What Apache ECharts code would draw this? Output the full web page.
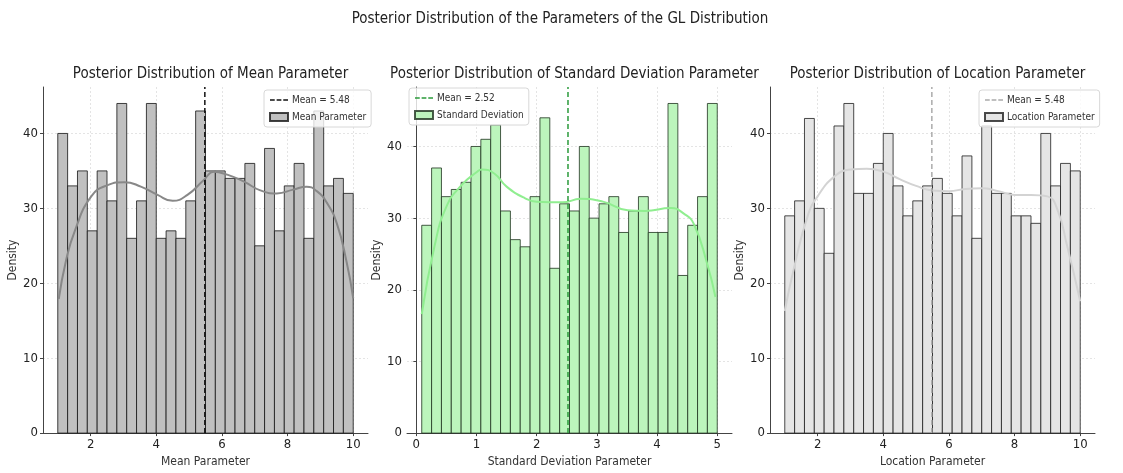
<!DOCTYPE html>
<html>
<head>
<meta charset="utf-8">
<script src="https://cdn.jsdelivr.net/npm/echarts@6/dist/echarts.min.js"></script>
<style>
  html, body { margin: 0; padding: 0; background: #fff; }
  #chart { width: 1123px; height: 473px; }
</style>
</head>
<body>
<div id="chart"></div>
<script>
// Histogram counts (30 bins each)
const meanCounts = [40, 33, 35, 27, 35, 31, 44, 26, 31, 44, 26, 27, 26, 31, 43,
                    35, 35, 34, 34, 36, 25, 38, 27, 33, 36, 26, 43, 33, 34, 32];
const sdCounts   = [29, 37, 33, 34, 35, 40, 41, 43, 31, 27, 26, 33, 44, 23, 32,
                    31, 40, 30, 32, 33, 28, 31, 33, 28, 28, 46, 22, 29, 33, 46];
const locCounts  = [29, 31, 42, 30, 24, 41, 44, 32, 32, 36, 40, 33, 29, 31, 33,
                    34, 32, 29, 37, 26, 41, 32, 32, 29, 29, 28, 40, 33, 36, 35];

// Bin ranges of the samples
const meanRange = [1.0, 10.0];
const sdRange   = [0.09, 5.0];
const locRange  = [1.0, 10.0];

// Posterior means
const meanOfMean = 5.48;
const meanOfSd   = 2.52;
const meanOfLoc  = 5.48;

// Kernel density curves (x, scaled density)
const meanKdeX = [1.03, 1.25, 1.52, 2.02, 2.52, 3.03, 3.53, 4.04, 4.5, 4.95, 5.45, 5.76, 6.16, 6.66, 7.17, 7.67, 8.17, 8.58, 8.89, 9.19, 9.5, 9.8, 10.0];
const meanKdeY = [17.9, 23.0, 27.0, 31.6, 33.1, 33.5, 32.9, 31.8, 31.0, 31.8, 33.8, 34.9, 34.5, 33.6, 32.4, 32.0, 32.5, 32.9, 32.3, 30.8, 28.0, 22.8, 18.0];
const sdKdeX = [0.09, 0.3, 0.5, 0.75, 1.0, 1.09, 1.3, 1.5, 1.8, 2.0, 2.43, 2.73, 3.1, 3.51, 3.8, 4.23, 4.45, 4.61, 4.83, 4.97];
const sdKdeY = [16.6, 26.0, 31.6, 34.6, 36.4, 36.8, 36.2, 34.4, 32.8, 32.3, 32.2, 32.7, 32.3, 31.1, 31.0, 31.4, 30.6, 29.2, 23.7, 19.0];
const locKdeX = [1.0, 1.3, 1.7, 2.0, 2.5, 3.0, 3.5, 4.0, 4.5, 5.0, 5.5, 6.0, 6.5, 7.0, 7.5, 8.0, 8.5, 9.0, 9.3, 9.6, 10.0];
const locKdeY = [16.3, 22.4, 29.0, 31.6, 34.2, 35.2, 35.3, 34.9, 33.9, 33.0, 32.4, 32.3, 32.6, 32.7, 32.3, 31.8, 31.8, 31.6, 29.9, 25.0, 17.6];

// Tick labels
const tenTicks = [2, 4, 6, 8, 10];
const sdTicks = [0, 1, 2, 3, 4, 5];
const densityTicks = [0, 10, 20, 30, 40];

// Titles and legend texts
const mainTitle = 'Posterior Distribution of the Parameters of the GL Distribution';
const panelTitles = ['Posterior Distribution of Mean Parameter',
                     'Posterior Distribution of Standard Deviation Parameter',
                     'Posterior Distribution of Location Parameter'];
const axisNames = ['Mean Parameter', 'Standard Deviation Parameter', 'Location Parameter'];
const histNames = ['Mean Parameter', 'Standard Deviation', 'Location Parameter'];

const FONT = "'DejaVu Sans Condensed', 'Liberation Sans Narrow', 'DejaVu Sans', sans-serif";
// three short dashes, used as the legend icon of the mean lines
const DASH_ICON = 'path://M0,0h5v1.6h-5z M7,0h5v1.6h-5z M14,0h5v1.6h-5z';

function bins(counts, range) {
  const w = (range[1] - range[0]) / counts.length;
  return counts.map((c, i) => [range[0] + i * w, range[0] + (i + 1) * w, c]);
}
function pairs(xs, ys) { return xs.map((x, i) => [x, ys[i]]); }

const panels = [
  { counts: meanCounts, range: meanRange, mean: meanOfMean, kx: meanKdeX, ky: meanKdeY,
    xmin: 0.55, xmax: 10.45, ymax: 46.2, ticks: tenTicks,
    fill: '#c0c0c0', edge: 'rgba(20,20,20,0.8)', kde: '#888888', meanColor: '#111111' },
  { counts: sdCounts, range: sdRange, mean: meanOfSd, kx: sdKdeX, ky: sdKdeY,
    xmin: -0.155, xmax: 5.245, ymax: 48.3, ticks: sdTicks,
    fill: '#bcf5bc', edge: 'rgba(30,50,30,0.8)', kde: '#90ee90', meanColor: '#2a9a3a' },
  { counts: locCounts, range: locRange, mean: meanOfLoc, kx: locKdeX, ky: locKdeY,
    xmin: 0.55, xmax: 10.45, ymax: 46.2, ticks: tenTicks,
    fill: '#e5e5e5', edge: 'rgba(30,30,30,0.8)', kde: '#d3d3d3', meanColor: '#ababab' }
];

const gridLefts = [43, 407, 770];
const gridWidth = 325;

const legendText = {};
const option = {
  animation: false,
  backgroundColor: '#ffffff',
  textStyle: { fontFamily: FONT },
  title: [{
    text: mainTitle, left: 555, top: 7, textAlign: 'center',
    textStyle: { fontSize: 15, fontWeight: 'normal', color: '#222', fontFamily: FONT }
  }].concat(panelTitles.map((t, i) => ({
    text: t, left: gridLefts[i] + gridWidth / 2, top: 62, textAlign: 'center',
    textStyle: { fontSize: 15, fontWeight: 'normal', color: '#222', fontFamily: FONT }
  }))),
  grid: gridLefts.map(l => ({ left: l, width: gridWidth, top: 87, height: 351 })),
  xAxis: [], yAxis: [], legend: [], series: []
};

panels.forEach((p, i) => {
  option.xAxis.push({
    type: 'value', gridIndex: i, min: p.xmin, max: p.xmax,
    name: axisNames[i], nameLocation: 'middle', nameGap: 22,
    nameTextStyle: { fontSize: 12, color: '#333', fontFamily: FONT },
    axisLine: { show: true, lineStyle: { color: '#444', width: 1 } },
    axisTick: { show: true, length: 3, customValues: p.ticks, lineStyle: { color: '#444' } },
    axisLabel: { customValues: p.ticks, fontSize: 13, color: '#222', margin: 5, fontFamily: FONT },
    splitLine: { show: true, lineStyle: { color: '#e4e4e4', type: [2, 2] } }
  });
  option.yAxis.push({
    type: 'value', gridIndex: i, min: 0, max: p.ymax,
    name: 'Density', nameLocation: 'middle', nameGap: 20,
    nameTextStyle: { fontSize: 12, color: '#333', fontFamily: FONT },
    axisLine: { show: true, lineStyle: { color: '#444', width: 1 } },
    axisTick: { show: true, length: 3, customValues: densityTicks, lineStyle: { color: '#444' } },
    axisLabel: { customValues: densityTicks, fontSize: 13, color: '#222', margin: 5, fontFamily: FONT },
    splitLine: { show: true, lineStyle: { color: '#e4e4e4', type: [2, 2] } }
  });

  const histId = 'hist' + i, meanId = 'mean' + i;
  legendText[histId] = histNames[i];
  legendText[meanId] = 'Mean = ' + p.mean.toFixed(2);

  option.series.push({
    id: histId, name: histId, type: 'custom', xAxisIndex: i, yAxisIndex: i,
    data: bins(p.counts, p.range), encode: { x: [0, 1], y: 2 },
    itemStyle: { color: p.fill, borderColor: p.edge, borderWidth: 1 },
    renderItem: function (params, api) {
      const a = api.coord([api.value(0), api.value(2)]);
      const b = api.coord([api.value(1), 0]);
      return { type: 'rect', shape: { x: a[0], y: a[1], width: b[0] - a[0], height: b[1] - a[1] },
               style: api.style() };
    },
    z: 2
  });
  option.series.push({
    name: 'kde' + i, type: 'line', xAxisIndex: i, yAxisIndex: i,
    data: pairs(p.kx, p.ky), smooth: 0.5, symbol: 'none',
    lineStyle: { color: p.kde, width: 2 }, z: 3
  });
  option.series.push({
    id: meanId, name: meanId, type: 'line', xAxisIndex: i, yAxisIndex: i,
    data: [[p.mean, 0], [p.mean, p.ymax]], symbol: 'none',
    itemStyle: { color: p.meanColor },
    lineStyle: { color: p.meanColor, width: 1.5, type: [5, 3] }, z: 4
  });

  option.legend.push({
    orient: 'vertical', selectedMode: false,
    data: [
      { name: meanId, icon: DASH_ICON, itemStyle: { color: p.meanColor, borderWidth: 0 } },
      { name: histId, icon: 'rect' }
    ],
    formatter: name => legendText[name],
    itemWidth: 18, itemHeight: 8, itemGap: 7,
    padding: [5, 5, 5, 5],
    backgroundColor: 'rgba(255,255,255,0.8)', borderColor: '#d8d8d8', borderWidth: 1, borderRadius: 3,
    textStyle: { fontSize: 10, color: '#333', fontFamily: FONT, padding: [0, 0, 0, -1] }
  });
});

const legendPos = [{ left: 264, top: 90 }, { left: 409, top: 88 }, { left: 979, top: 90 }];
legendPos.forEach((pos, i) => Object.assign(option.legend[i], pos));

const chart = echarts.init(document.getElementById('chart'), null, { renderer: 'canvas' });
chart.setOption(option);
</script>
</body>
</html>
